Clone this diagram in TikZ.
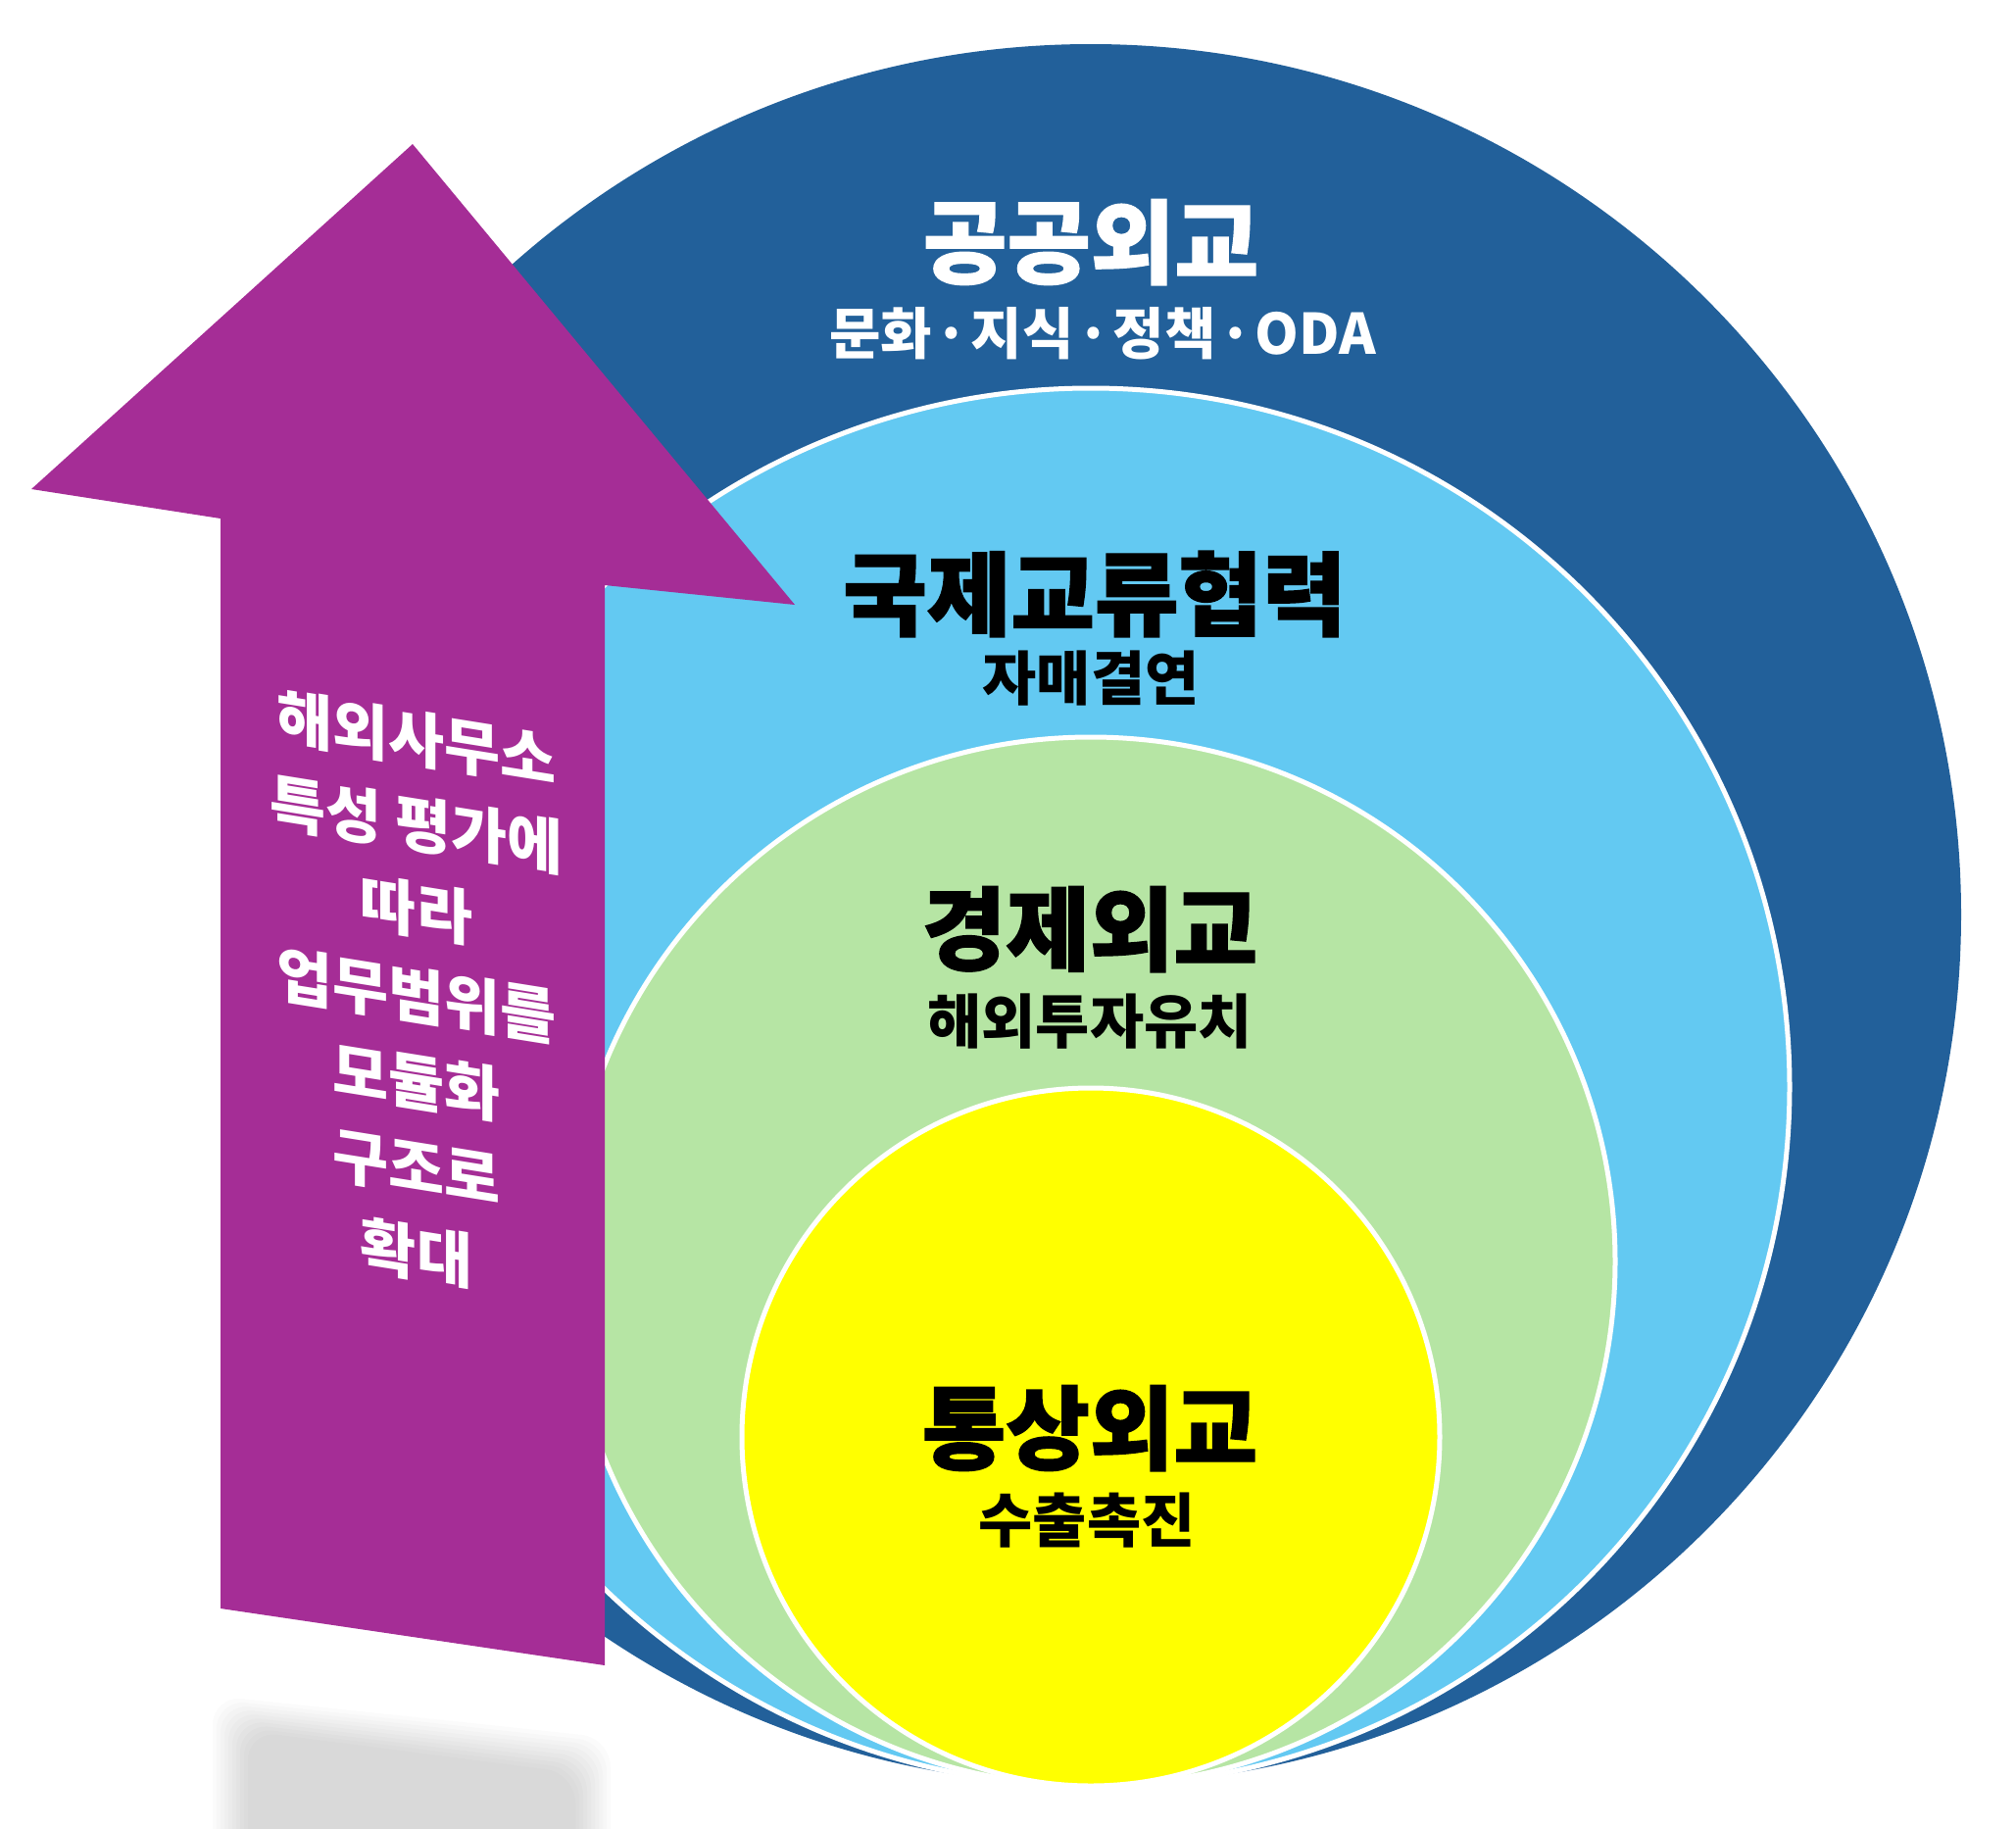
\documentclass[tikz,border=0pt]{standalone}
\usepackage{fontspec}
\newfontfamily\krfont{Noto Sans CJK KR}[BoldFeatures={FakeBold=1.5}]
\newfontfamily\krsub{Noto Sans CJK KR}
\definecolor{outerblue}{HTML}{22609A}
\definecolor{skyblue}{HTML}{63C9F2}
\definecolor{softgreen}{HTML}{B6E5A4}
\definecolor{lemon}{HTML}{FFFF00}
\definecolor{arrowpurple}{HTML}{A52D96}
\newcommand{\middot}{\makebox[0.7em]{·}}
\tikzset{
  ring/.style={draw=white, line width=5pt},
  maintitle/.style={font=\krfont\bfseries\fontsize{93}{93}\selectfont, inner sep=0pt},
  subtitle/.style={font=\krsub\bfseries\fontsize{60}{60}\selectfont, inner sep=0pt},
  armtext/.style={font=\krsub\bfseries\fontsize{62}{87.5}\selectfont, align=center, inner sep=0pt, white},
}

\begin{document}
\begin{tikzpicture}[x=1pt,y=-1pt]
        \useasboundingbox (0,0) rectangle (2057,1866);
        % Circulos
        \fill[outerblue] (1113,933) circle[radius=888pt];
        \filldraw[ring, fill=skyblue] (1113,1109) circle[radius=713pt];
        \filldraw[ring, fill=softgreen] (1113,1287) circle[radius=535pt];
        \filldraw[ring, fill=lemon] (1113,1466) circle[radius=356pt];
        % Sombra
        \foreach \d in {0,4,...,36}{
            \fill[black, opacity=0.017, rounded corners=30pt] (217+\d,1730+\d) -- (623-\d,1773+\d) -- (623-\d,1900) -- (217+\d,1900) -- cycle;
        }
        % Flecha
        \fill[arrowpurple] (421,147) -- (811,617) -- (617,597) -- (617,1699) -- (225,1641) -- (225,529) -- (32,499) -- cycle;
        % Textos
        \node[maintitle, white] (publicdip) at (1113,247) {공공외교};
        \node[subtitle, white, font=\krsub\bfseries\fontsize{57}{57}\selectfont] (publicsub) at (1125,340) {문화\middot 지식\middot 정책\middot ODA};
        \node[maintitle] (exchange) at (1117,606) {국제교류협력};
        \node[subtitle] (exchangesub) at (1113,692) {자매결연};
        \node[maintitle] (economic) at (1112,948) {경제외교};
        \node[subtitle] (economicsub) at (1112,1042) {해외투자유치};
        \node[maintitle] (trade) at (1112,1457) {통상외교};
        \node[subtitle] (tradesub) at (1109,1551) {수출촉진};
        \node[armtext, yslant=-0.16] (overseas) at (425,1016) {해외사무소\\특성 평가에\\따라\\업무범위를\\모듈화\\구조로\\확대};
\end{tikzpicture}
\end{document}
